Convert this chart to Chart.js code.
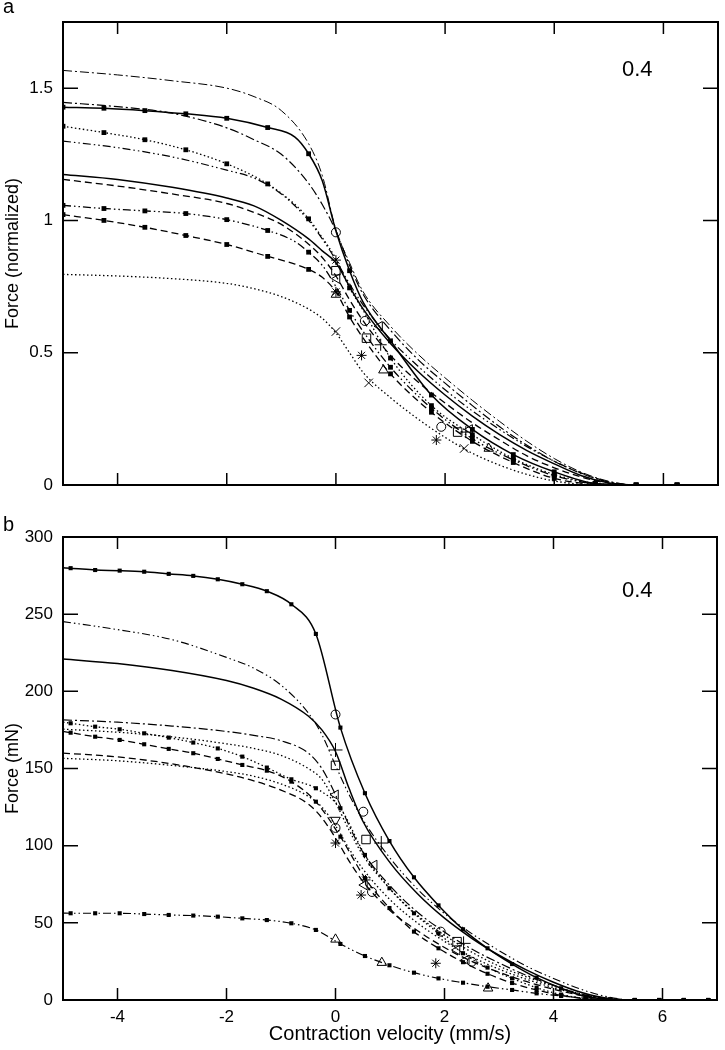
<!DOCTYPE html>
<html>
<head>
<meta charset="utf-8">
<script src="https://cdn.jsdelivr.net/npm/chart.js@4.4.1/dist/chart.umd.min.js"></script>
<style>
html,body{margin:0;padding:0;background:#fff}
#ca,#cb{position:absolute;left:0}
#ca{top:0}
#cb{top:515px}
</style>
</head>
<body>
<canvas id="ca" width="725" height="506"></canvas>
<canvas id="cb" width="725" height="535"></canvas>
<script>
// tick values
var xTicks=[-4,-2,0,2,4,6]
var yTicksA=[0,0.5,1,1.5]
var yTicksB=[0,50,100,150,200,250,300]

// panel a: normalized force
var xA=[-5,-4,-3,-2,-1.5,-1,-0.5,-0.25,0,0.25,0.5,1,1.5,2,2.5,3,3.5,4,4.5,5,5.5,7]
var xAm=[-5,-4.25,-3.5,-2.75,-2,-1.25,-0.75,-0.5,-0.25,0,0.25,0.5,1,1.75,2.5,3.25,4,4.75,5.5,6.25,7]
var a1=[1.567,1.55,1.528,1.5,1.468,1.415,1.29,1.17,0.965,0.84,0.73,0.6,0.495,0.405,0.32,0.24,0.165,0.1,0.048,0.014,0,0]
var a2=[1.446,1.43,1.405,1.35,1.305,1.25,1.14,1.06,0.96,0.83,0.72,0.585,0.475,0.385,0.3,0.22,0.15,0.09,0.043,0.011,0,0]
var a3=[1.428,1.424,1.415,1.403,1.386,1.351,1.315,1.252,1.15,0.96,0.81,0.69,0.545,0.34,0.21,0.115,0.05,0.006,0,0,0]
var a4=[1.356,1.332,1.305,1.267,1.214,1.138,1.06,1.006,0.935,0.855,0.745,0.66,0.48,0.30,0.19,0.10,0.04,0.006,0,0,0]
var a5=[1.30,1.275,1.24,1.19,1.16,1.10,1.0,0.93,0.85,0.76,0.68,0.55,0.45,0.36,0.28,0.21,0.145,0.09,0.045,0.012,0,0]
var a6=[1.174,1.155,1.125,1.085,1.055,1.0,0.93,0.885,0.84,0.75,0.665,0.535,0.43,0.34,0.26,0.19,0.13,0.08,0.035,0.008,0,0]
var a7=[1.155,1.13,1.10,1.064,1.03,0.985,0.91,0.86,0.79,0.70,0.62,0.49,0.39,0.31,0.235,0.17,0.11,0.065,0.03,0.006,0,0]
var a8=[1.057,1.045,1.036,1.026,1.003,0.962,0.92,0.88,0.83,0.75,0.66,0.58,0.445,0.29,0.175,0.095,0.035,0.005,0,0,0]
var a9=[1.022,1.0,0.974,0.943,0.909,0.864,0.835,0.815,0.785,0.73,0.635,0.555,0.42,0.275,0.165,0.085,0.025,0.003,0,0,0]
var a10=[0.796,0.79,0.78,0.762,0.742,0.712,0.665,0.63,0.575,0.5,0.425,0.33,0.25,0.18,0.12,0.075,0.04,0.015,0.003,0,0,0]

// panel a: measured points
var circA=[[0,0.955],[0.53,0.62],[1.93,0.22]]
var rectA=[[0,0.81],[0.56,0.555],[2.23,0.2]]
var triUpA=[[0,0.72],[0.87,0.434],[2.8,0.138]]
var triLeftA=[[0.02,0.78],[0.8,0.6],[2.45,0.21]]
var starA=[[0,0.85],[0,0.73],[0.47,0.49],[1.84,0.17]]
var xMarkA=[[0,0.58],[0.6,0.386],[2.35,0.138]]
var plusA=[[0.82,0.53],[2.38,0.2]]

// panel b: force in mN
var xB=[-5,-4,-3,-2,-1.5,-1,-0.5,-0.25,0,0.25,0.5,1,1.5,2,2.5,3,3.5,4,4.5,5,5.5,7]
var xBm=[-5,-4.86,-4.41,-3.96,-3.51,-3.06,-2.61,-2.16,-1.71,-1.26,-0.81,-0.36,0.09,0.54,0.99,1.44,1.89,2.34,2.79,3.24,3.69,4.14,4.59,5.04,5.49,5.94,6.39,6.84,7]
var b1=[280,279.8,278.6,278.2,277.5,276.1,274.8,272.6,269.4,264.9,256.4,237.2,176.5,134,103,79.5,61.3,45.8,33.5,23.3,14.5,7.6,2.2,0.5,0,0,0,0,0]
var b2=[245.2,240,233.5,222,215,204,186,172,152,133,117,92,72,56,43,32,22,14,7,2,0,0]
var b3=[221,218,213.5,207,202,195,184,175,161,137,116,89,69,53,40,29,19.5,11.5,5,1,0,0]
var b4=[181.5,180,177.5,174,171.5,168,160,150,133,113,96,74,57,44,33,24,16,9.5,4,1,0,0]
var b5=[180,179.3,177.1,175.4,172.8,170,166.8,163,157.7,150.6,143,137.2,124.2,94,72.4,56.2,43.2,30.3,21,14,8,3.5,1,0,0,0,0,0,0]
var b6=[174,173.2,170.6,168.5,165.7,162.7,159.9,156.2,152.3,148.6,141.5,128.5,105.8,79,59.6,44.3,33.5,24.5,17,11,6.5,3,0.8,0,0,0,0,0,0]
var b7=[160,157.5,153,146.5,142,136,127,118,105,90,77,58,45,34,25,18,12,7,3,0.5,0,0]
var b8=[156.6,155,152,148,145,140,132,125,113,98,85,65,50,38,28,20,13.5,8,3.5,0.8,0,0]
var b9=[175.5,173.5,170.5,166,163,158.5,150,143,128,110,94,72,55,42,31,22,15,9,4,1,0,0]
var b10=[56.3,56.2,56.2,56.2,55.7,55.1,54.7,54,52.9,51.8,49.7,45.4,36.3,28.5,22.5,17.7,14,11.2,8.6,6.5,4.3,2.6,1.1,0.3,0,0,0,0,0]

// panel b: measured points
var circB=[[0,185],[0.51,122],[0,111.5],[0.67,70],[1.93,44.3],[2.5,24.8]]
var rectB=[[0,152],[0.56,104],[2.23,37.8]]
var plusB=[[0,162],[0.84,101.7],[2.35,36.7]]
var triLeftB=[[0,133],[0.71,87.5],[0.53,74.5],[2.23,32.4],[2.4,26]]
var triDownB=[[0,116.6]]
var triUpB=[[0,39.3],[0.85,24.2],[2.8,7.6]]
var starB=[[0,101.7],[0.55,77.8],[0.47,68],[1.84,23.8]]

Chart.defaults.font.family='"Liberation Sans", Arial, Helvetica, sans-serif'
Chart.defaults.color='#000'

var DASH={solid:[],dash:[7,4],dot:[1.5,2.5],dashDot:[9,3,2,3],dashDot2:[8,3,1.5,3,1.5,3]}

function onGrid(x,start,step){
    var k=(x-start)/step
    return Math.abs(k-Math.round(k))<0.01
}

function curve(xs,ys,dash,width,markR,start,step){
    return {
        data:xs.map(function(x,i){return {x:x,y:ys[i]}}),
        showLine:true,
        borderColor:'#000',
        borderWidth:width,
        borderDash:DASH[dash],
        cubicInterpolationMode:'monotone',
        pointStyle:'rect',
        backgroundColor:'#000',
        pointBorderWidth:0,
        pointRadius:markR?function(c){return (c.raw && onGrid(c.raw.x,start,step) && c.raw.x<6.9)?markR:0}:0,
        order:2
    }
}

function symbols(pts,style,r,rot){
    return {
        data:pts.map(function(p){return {x:p[0],y:p[1]}}),
        showLine:false,
        pointStyle:style,
        pointRadius:r,
        rotation:rot||0,
        borderColor:'#000',
        backgroundColor:'rgba(0,0,0,0)',
        pointBorderWidth:1,
        order:1
    }
}

// frame with inward ticks on all four sides
var frameTicks={
    id:'frameTicks',
    afterDraw:function(chart){
        var ctx=chart.ctx, a=chart.chartArea, xs=chart.scales.x, ys=chart.scales.y
        ctx.save()
        ctx.strokeStyle='#000'
        ctx.lineWidth=1.5
        ctx.beginPath()
        xs.ticks.forEach(function(t){
            var p=xs.getPixelForValue(t.value)
            ctx.moveTo(p,a.bottom);ctx.lineTo(p,a.bottom-12)
            ctx.moveTo(p,a.top);ctx.lineTo(p,a.top+12)
        })
        ys.ticks.forEach(function(t){
            var p=ys.getPixelForValue(t.value)
            ctx.moveTo(a.left,p);ctx.lineTo(a.left+15,p)
            ctx.moveTo(a.right,p);ctx.lineTo(a.right-15,p)
        })
        ctx.stroke()
        ctx.lineWidth=2
        ctx.strokeRect(a.left,a.top,a.right-a.left,a.bottom-a.top)
        ctx.restore()
    }
}

var panelText={
    id:'panelText',
    afterDraw:function(chart,args,o){
        var ctx=chart.ctx, a=chart.chartArea
        ctx.save()
        ctx.fillStyle='#000'
        ctx.textBaseline='alphabetic'
        ctx.font='20px "Liberation Sans", Arial, sans-serif'
        ctx.fillText(o.letter,3,o.letterBase)
        ctx.font='22px "Liberation Sans", Arial, sans-serif'
        ctx.fillText(o.note,622,a.top+o.noteOff)
        ctx.restore()
    }
}

function makePanel(id,datasets,yMax,yTicks,yTitle,showX,xHeight,letter,letterBase,noteOff){
    return new Chart(document.getElementById(id),{
        type:'scatter',
        data:{datasets:datasets},
        options:{
            responsive:false,
            animation:false,
            events:[],
            layout:{padding:{top:22,right:2,left:0,bottom:0}},
            plugins:{
                legend:{display:false},
                tooltip:{enabled:false},
                panelText:{letter:letter,letterBase:letterBase,note:'0.4',noteOff:noteOff}
            },
            scales:{
                x:{
                    type:'linear',min:-5,max:7,
                    afterBuildTicks:function(s){s.ticks=xTicks.map(function(v){return {value:v}})},
                    afterFit:function(s){s.height=xHeight},
                    grid:{display:false,drawTicks:false},
                    border:{display:false},
                    ticks:{display:showX,padding:7,font:{size:17},callback:function(v){return String(v)}},
                    title:{display:showX,text:'Contraction velocity (mm/s)',font:{size:20},padding:{top:0,bottom:4}}
                },
                y:{
                    type:'linear',min:0,max:yMax,
                    afterBuildTicks:function(s){s.ticks=yTicks.map(function(v){return {value:v}})},
                    afterFit:function(s){s.width=63},
                    grid:{display:false,drawTicks:false},
                    border:{display:false},
                    ticks:{padding:10,font:{size:17},callback:function(v){return String(v)}},
                    title:{display:true,text:yTitle,font:{size:18},padding:{top:2,bottom:0}}
                }
            }
        },
        plugins:[frameTicks,panelText]
    })
}

var dsA=[
    curve(xA,a1,'dashDot',1,0),
    curve(xA,a2,'dashDot',1.2,0),
    curve(xAm,a3,'solid',1.5,3.4,-5,0.75),
    curve(xAm,a4,'dot',1.3,3.4,-5,0.75),
    curve(xA,a5,'dashDot2',1.2,0),
    curve(xA,a6,'solid',1.5,0),
    curve(xA,a7,'dash',1.3,0),
    curve(xAm,a8,'dashDot2',1.3,3.4,-5,0.75),
    curve(xAm,a9,'dash',1.3,3.4,-5,0.75),
    curve(xA,a10,'dot',1.3,0),
    symbols(circA,'circle',4.5),
    symbols(rectA,'rect',6),
    symbols(triUpA,'triangle',5.5),
    symbols(triLeftA,'triangle',5.5,-90),
    symbols(starA,'star',5),
    symbols(xMarkA,'crossRot',6),
    symbols(plusA,'cross',6)
]

var dsB=[
    curve(xBm,b1,'solid',1.5,2.9,-4.86,0.45),
    curve(xB,b2,'dashDot2',1.1,0),
    curve(xB,b3,'solid',1.5,0),
    curve(xB,b4,'dashDot',1.2,0),
    curve(xBm,b5,'dot',1.3,2.9,-4.86,0.45),
    curve(xBm,b6,'dash',1.3,2.9,-4.86,0.45),
    curve(xB,b7,'dash',1.3,0),
    curve(xB,b8,'dot',1.3,0),
    curve(xB,b9,'dot',1.3,0),
    curve(xBm,b10,'dashDot2',1.2,2.9,-4.86,0.45),
    symbols(circB,'circle',4.5),
    symbols(rectB,'rect',6),
    symbols(plusB,'cross',7),
    symbols(triLeftB,'triangle',5.5,-90),
    symbols(triDownB,'triangle',5.5,180),
    symbols(triUpB,'triangle',5.5),
    symbols(starB,'star',5)
]

makePanel('ca',dsA,1.75,yTicksA,'Force (normalized)',false,21,'a',13,54)
makePanel('cb',dsB,300,yTicksB,'Force (mN)',true,50,'b',16,60)
</script>
</body>
</html>
